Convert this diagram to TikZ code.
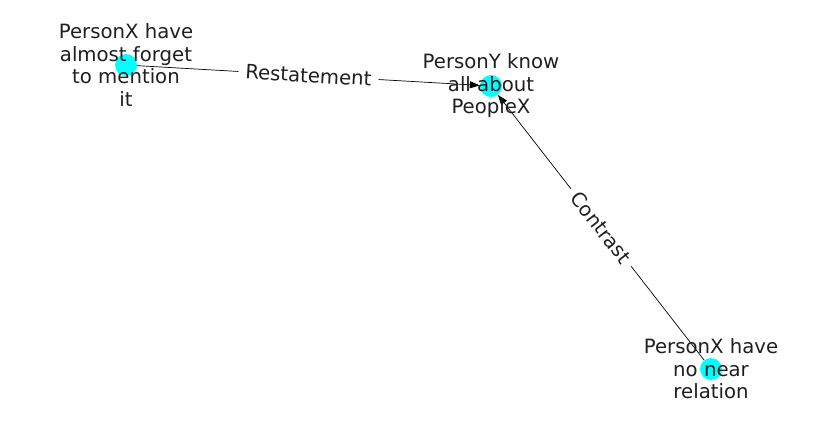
\documentclass[tikz,border=0pt]{standalone}
\usepackage{fontspec}
\setmainfont{DejaVu Sans}
\usetikzlibrary{arrows.meta}
\definecolor{nodecyan}{RGB}{0,255,255}
\begin{document}
\begin{tikzpicture}[x=1pt,y=-1pt,
  dot/.style={circle,fill=nodecyan,draw=none,minimum size=22pt,inner sep=0pt},
  lbl/.style={align=center,inner sep=0pt,font=\fontsize{19.7}{22.5}\selectfont,text=black!88},
  edgelbl/.style={fill=white,inner xsep=7pt,inner ysep=3pt,font=\fontsize{19.7}{22.5}\selectfont,text=black!88,midway,sloped},
  conn/.style={draw=black,line width=0.7pt,-{Triangle[length=10pt,width=7pt]}}]
\useasboundingbox (0,0) rectangle (837,434);
\node[dot] (a) at (126,65) {};
\node[dot] (b) at (491,86) {};
\node[dot] (c) at (711,369) {};
\draw[conn] (a) -- (b) node[edgelbl] {Restatement};
\draw[conn] (c) -- (b) node[edgelbl] {Contrast};
\node[lbl] (ta) at (126,65) {PersonX have\\almost forget\\to mention\\it};
\node[lbl] (tb) at (491,86) {PersonY know\\all about\\PeopleX};
\node[lbl] (tc) at (711,369) {PersonX have\\no near\\relation};
\end{tikzpicture}
\end{document}
